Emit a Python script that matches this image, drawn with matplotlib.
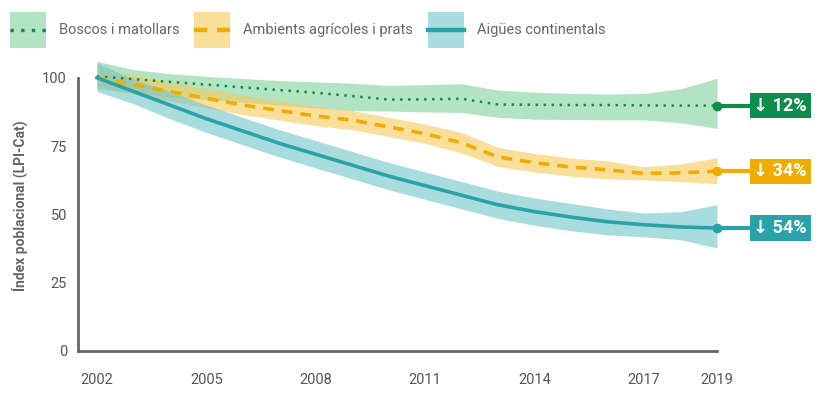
import matplotlib
matplotlib.use('Agg')
import matplotlib.pyplot as plt
from matplotlib.patches import Rectangle
from matplotlib.lines import Line2D

plt.rcParams['font.family'] = ['Roboto', 'DejaVu Sans']

years = list(range(2002, 2020))

# Boscos i matollars
boscos = [100.5, 99.5, 98.5, 97.5, 96.5, 95.5, 94.5, 93.3, 92.0, 92.1, 92.3, 90.2,
          90.1, 90.0, 90.0, 89.9, 89.8, 89.8]
boscos_lo = [96.0, 94.5, 93.0, 92.0, 91.0, 90.0, 89.0, 88.0, 87.8, 87.5, 87.3, 85.5,
             84.8, 84.7, 84.6, 84.6, 83.5, 81.5]
boscos_hi = [106.0, 103.0, 101.5, 100.5, 99.7, 99.0, 98.5, 98.0, 97.2, 97.5, 97.8, 95.5,
             94.7, 94.3, 94.0, 94.3, 96.0, 99.8]

# Ambients agrícoles i prats
agricoles = [100.0, 97.5, 95.0, 92.5, 90.0, 88.0, 86.0, 84.5, 82.0, 79.5, 76.2, 71.0,
             68.9, 67.3, 66.3, 65.0, 65.2, 65.8]
agricoles_lo = [97.0, 94.0, 91.5, 89.0, 86.5, 84.5, 82.5, 81.0, 78.5, 76.0, 72.5, 67.5,
                65.5, 64.0, 63.0, 62.6, 62.0, 61.2]
agricoles_hi = [103.0, 101.0, 98.5, 96.0, 93.5, 91.5, 89.5, 88.0, 85.5, 83.0, 80.0, 74.5,
                72.3, 70.6, 69.6, 67.4, 68.5, 70.7]

# Aigües continentals
aigues = [100.0, 95.0, 90.0, 85.0, 80.5, 76.0, 72.0, 68.0, 64.0, 60.5, 57.0, 53.5,
          51.0, 49.0, 47.3, 46.2, 45.4, 45.0]
aigues_lo = [95.0, 90.5, 85.0, 80.0, 75.5, 71.0, 67.0, 63.0, 59.0, 55.5, 52.0, 48.5,
             46.0, 44.0, 42.5, 41.8, 40.7, 37.7]
aigues_hi = [105.5, 99.5, 95.0, 90.0, 85.5, 81.0, 77.0, 73.0, 69.0, 65.5, 62.0, 58.5,
             56.0, 54.0, 52.0, 50.5, 51.0, 53.5]

changes = ['12%', '34%', '54%']
names = ['Boscos i matollars', 'Ambients agrícoles i prats', 'Aigües continentals']
xticks = [2002, 2005, 2008, 2011, 2014, 2017, 2019]
yticks = [0, 25, 50, 75, 100]

line_cols = ['#0e8c4c', '#f0ad00', '#2aa3a8']
band_cols = ['#7fd39b', '#f7ca57', '#70c5cb']
styles = [(0, (1, 2.2)), (0, (3, 2.2)), '-']
widths = [1.8, 2.6, 2.6]
gray = '#666666'

fig = plt.figure(figsize=(8.28, 3.99), dpi=100)
ax = fig.add_axes([78 / 828, 48 / 399, 639 / 828, 291 / 399])

series = [(boscos, boscos_lo, boscos_hi), (agricoles, agricoles_lo, agricoles_hi),
          (aigues, aigues_lo, aigues_hi)]

for (vals, lo, hi), bc in zip(series, band_cols):
    ax.fill_between(years, lo, hi, color=bc, alpha=0.6, lw=0, clip_on=False)
for (vals, lo, hi), lc, ls, lw in zip(series, line_cols, styles, widths):
    ax.plot(years, vals, color=lc, ls=ls, lw=lw, clip_on=False)

# end markers, connectors and change boxes
for (vals, lo, hi), lc, ch in zip(series, line_cols, changes):
    y = vals[-1]
    ax.plot([2019, 2020.1], [y, y], color=lc, lw=3, clip_on=False,
            solid_capstyle='butt')
    ax.plot(2019, y, 'o', color=lc, ms=6, clip_on=False)
    ax.annotate('↓ ' + ch, xy=(2020.0, y), xycoords='data', ha='left', va='center',
                color='white', fontsize=13, fontweight='bold',
                family=['Roboto', 'DejaVu Sans'],
                bbox=dict(boxstyle='square,pad=0.2', fc=lc, ec='none'),
                annotation_clip=False)

ax.set_xlim(2001.48, 2019)
ax.set_ylim(0, 106.5)
ax.set_xticks(xticks)
ax.set_yticks(yticks)
ax.tick_params(axis='both', length=0, colors='#555555', labelsize=10.5)
ax.tick_params(axis='x', pad=16)
ax.tick_params(axis='y', pad=8)
for s in ['top', 'right']:
    ax.spines[s].set_visible(False)
ax.spines['left'].set_bounds(0, 100)
for s in ['left', 'bottom']:
    ax.spines[s].set_color(gray)
    ax.spines[s].set_linewidth(2)
ax.set_ylabel('Índex poblacional (LPI-Cat)', color=gray, fontsize=10,
              fontweight='bold', labelpad=10)

# legend along the top
legend_x = [10, 194, 428]
for x0, name, lc, bc, ls, lw in zip(legend_x, names, line_cols, band_cols, styles, widths):
    fig.patches.append(Rectangle((x0 / 828, 1 - 48 / 399), 36 / 828, 36 / 399,
                                 transform=fig.transFigure, fc=bc, alpha=0.6, ec='none'))
    fig.lines.append(Line2D([x0 / 828, (x0 + 36) / 828], [1 - 30 / 399] * 2,
                            transform=fig.transFigure, color=lc, ls=ls, lw=lw + 0.6))
    fig.text((x0 + 49) / 828, 1 - 30 / 399, name, ha='left', va='center',
             color=gray, fontsize=10.5)

fig.savefig('out.png', dpi=100)
